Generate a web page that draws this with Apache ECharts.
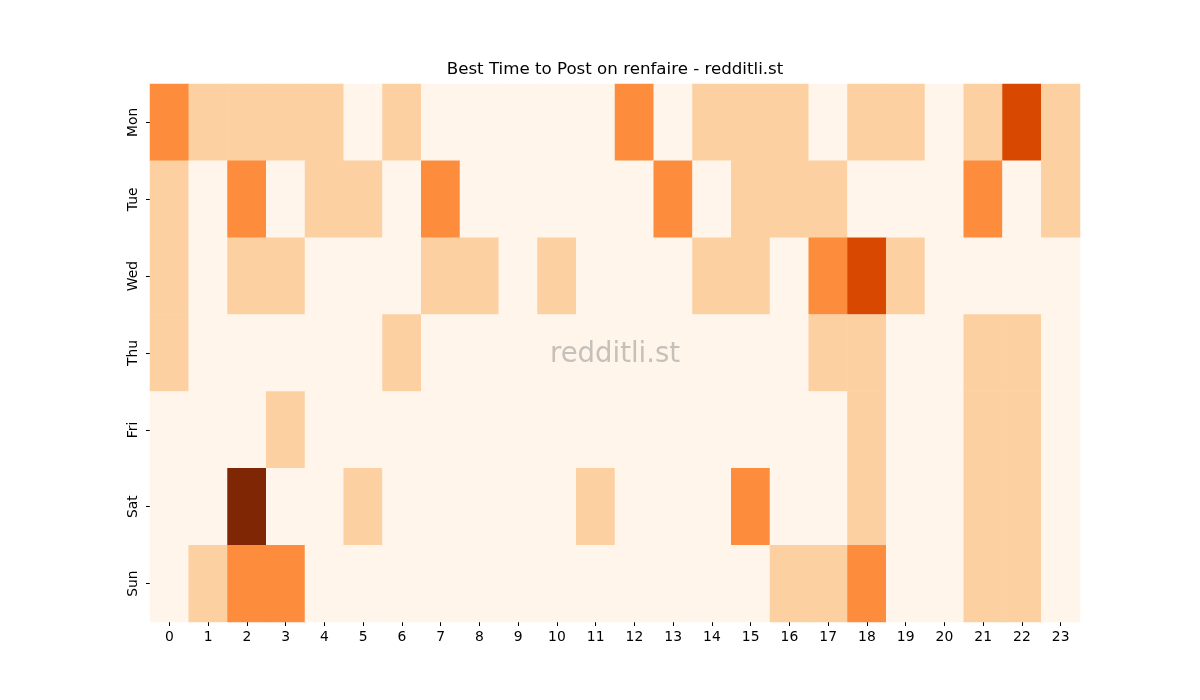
<!DOCTYPE html>
<html>
<head>
<meta charset="utf-8">
<script src="https://cdn.jsdelivr.net/npm/echarts@6/dist/echarts.min.js"></script>
<style>html,body{margin:0;padding:0;background:#fff}#c{width:1200px;height:700px}</style>
</head>
<body>
<div id="c"></div>
<script>
const hours = ['0','1','2','3','4','5','6','7','8','9','10','11','12','13','14','15','16','17','18','19','20','21','22','23'];
const days = ['Mon','Tue','Wed','Thu','Fri','Sat','Sun'];
const mon = [2,1,1,1,1,0,1,0,0,0,0,0,2,0,1,1,1,0,1,1,0,1,3,1];
const tue = [1,0,2,0,1,1,0,2,0,0,0,0,0,2,0,1,1,1,0,0,0,2,0,1];
const wed = [1,0,1,1,0,0,0,1,1,0,1,0,0,0,1,1,0,2,3,1,0,0,0,0];
const thu = [1,0,0,0,0,0,1,0,0,0,0,0,0,0,0,0,0,1,1,0,0,1,1,0];
const fri = [0,0,0,1,0,0,0,0,0,0,0,0,0,0,0,0,0,0,1,0,0,1,1,0];
const sat = [0,0,4,0,0,1,0,0,0,0,0,1,0,0,0,2,0,0,1,0,0,1,1,0];
const sun = [0,1,2,2,0,0,0,0,0,0,0,0,0,0,0,0,1,1,2,0,0,1,1,0];
const rows = [mon,tue,wed,thu,fri,sat,sun];

const data = [];
rows.forEach((r, yi) => r.forEach((v, xi) => data.push([xi, yi, v])));

const chart = echarts.init(document.getElementById('c'));
const font = 'DejaVu Sans';
chart.setOption({
  animation: false,
  grid: {left: 150, right: 120, top: 84, bottom: 78},
  xAxis: {
    type: 'category', data: hours,
    axisLine: {show: false},
    axisTick: {show: true, alignWithLabel: true, length: 4, lineStyle: {color: '#000'}},
    axisLabel: {fontFamily: font, fontSize: 13.9, color: '#000', margin: 8, interval: 0},
    splitLine: {show: false}
  },
  yAxis: {
    type: 'category', data: days, inverse: true,
    axisLine: {show: false},
    axisTick: {show: true, alignWithLabel: true, length: 4, lineStyle: {color: '#000'}},
    axisLabel: {fontFamily: font, fontSize: 13.9, color: '#000', rotate: 90, margin: 10},
    splitLine: {show: false}
  },
  visualMap: {
    show: false, type: 'continuous', min: 0, max: 4, dimension: 2,
    inRange: {color: ['#fff5eb', '#fdd0a2', '#fd8d3c', '#d94801', '#7f2704']}
  },
  series: [{
    type: 'heatmap', data: data,
    itemStyle: {borderWidth: 0},
    emphasis: {disabled: true}
  }],
  graphic: [{
    type: 'text', x: 615, y: 355, z: 100,
    style: {text: 'redditli.st', font: '27.5px "DejaVu Sans"', fill: 'rgba(128,128,128,0.45)', align: 'center', verticalAlign: 'middle'}
  }, {
    type: 'text', x: 615, y: 70, z: 100,
    style: {text: 'Best Time to Post on renfaire - redditli.st', font: '16.67px "DejaVu Sans"', fill: '#000', align: 'center', verticalAlign: 'middle'}
  }]
});
</script>
</body>
</html>
